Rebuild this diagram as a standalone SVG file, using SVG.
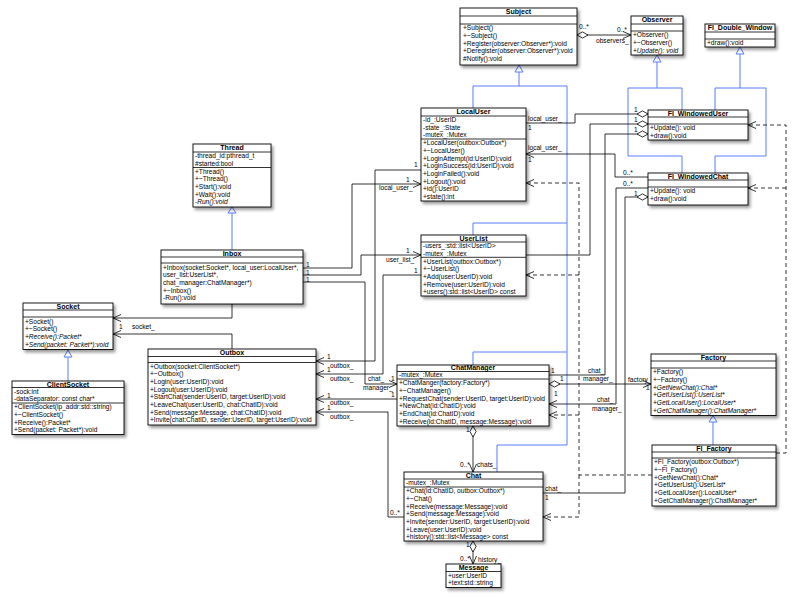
<svg xmlns="http://www.w3.org/2000/svg" width="792" height="600" viewBox="0 0 792 600">
<style>
.box{fill:#fff;stroke:#000;stroke-width:0.9}
.sep{stroke:#000;stroke-width:0.8}
text{font-family:"Liberation Sans",Arial,sans-serif;font-size:6.6px;fill:#000}
.h{font-weight:bold;font-size:7px;text-anchor:middle}
.i{font-style:italic}
.ln{fill:none;stroke:#000;stroke-width:0.8}
.da{stroke-dasharray:4,3}
.inh{fill:none;stroke:#5b7cff;stroke-width:1}
.tri{fill:#fff;stroke:#5b7cff;stroke-width:1}
</style>
<defs>
<filter id="sh" x="-10%" y="-10%" width="130%" height="140%"><feDropShadow dx="2" dy="2.5" stdDeviation="1.5" flood-color="#000" flood-opacity="0.4"/></filter>
<marker id="a" markerWidth="10" markerHeight="9" refX="9" refY="4" orient="auto" markerUnits="userSpaceOnUse"><path d="M1,0.5 L9,4 L1,7.5" fill="none" stroke="#000" stroke-width="0.8"/></marker>
<marker id="d" markerWidth="13" markerHeight="8" refX="0.5" refY="4" orient="auto" markerUnits="userSpaceOnUse"><path d="M0.5,4 L6,0.9 L11.5,4 L6,7.1 Z" fill="#fff" stroke="#000" stroke-width="0.8"/></marker>
</defs>

<g id="connectors">
<path class="inh" d="M519,72 V86 M473,86 H567 M473,86 V108 M567,86 V445 M567,223 H473 V235 M567,352 H473 V365 M567,445 H497 V472"/>
<path class="inh" d="M657,62 V88 M628,88 H682 M682,88 V110 M628,88 V156 H682 V173"/>
<path class="inh" d="M740,54 V88 M715,88 H766 M715,88 V110 M766,88 V156 H715 V173"/>
<path class="inh" d="M232,213 V250"/>
<path class="inh" d="M68,357 V381"/>
<path class="inh" d="M713,422 V445"/>
<polygon class="tri" points="519,65 515,72 523,72"/>
<polygon class="tri" points="657,55 653,62 661,62"/>
<polygon class="tri" points="740,47 736,54 744,54"/>
<polygon class="tri" points="232,207 228,213 236,213"/>
<polygon class="tri" points="68,350 64,357 72,357"/>
<polygon class="tri" points="713,415.5 709,422 717,422"/>

<path class="ln" d="M577,35 H631" marker-start="url(#d)" marker-end="url(#a)"/>
<path class="ln" d="M303,268 H352 V184 H421" marker-end="url(#a)"/>
<path class="ln" d="M303,275 H361 V255 H421" marker-end="url(#a)"/>
<path class="ln" d="M303,282 H365 V384 H397" marker-end="url(#a)"/>
<path class="ln" d="M421,170 H375 V361 H316" marker-end="url(#a)"/>
<path class="ln" d="M421,275 H383 V374 H316" marker-end="url(#a)"/>
<path class="ln" d="M397,399 H316" marker-end="url(#a)"/>
<path class="ln" d="M404,517 H388 V412 H316" marker-end="url(#a)"/>
<path class="ln" d="M232,304 V318 H113" marker-end="url(#a)"/>
<path class="ln" d="M232,349 V334 H113" marker-end="url(#a)"/>
<path class="ln" d="M648,114 H575 V123 H526" marker-start="url(#d)"/>
<path class="ln" d="M648,124 H590 V255 H526" marker-start="url(#d)"/>
<path class="ln" d="M648,134 H605 V375 H549" marker-start="url(#d)"/>
<path class="ln" d="M648,177 H615 V154 H526" marker-end="url(#a)"/>
<path class="ln" d="M648,188 H616 V404 H549" marker-end="url(#a)"/>
<path class="ln" d="M648,197 H625 V493 H543" marker-start="url(#d)"/>
<path class="ln" d="M549,384 H651" marker-start="url(#d)" marker-end="url(#a)"/>
<path class="ln" d="M473,426 V472" marker-start="url(#d)" marker-end="url(#a)"/>
<path class="ln" d="M473,541 V564" marker-start="url(#d)" marker-end="url(#a)"/>
<path class="ln da" d="M776,453 H786 V125 H748" marker-end="url(#a)"/>
<path class="ln da" d="M786,188 H748" marker-end="url(#a)"/>
<path class="ln da" d="M652,475 H579 V183 H526" marker-end="url(#a)"/>
<path class="ln da" d="M579,275 H526" marker-end="url(#a)"/>
<path class="ln da" d="M579,415 H549" marker-end="url(#a)"/>
<path class="ln da" d="M579,475 V517 H543" marker-end="url(#a)"/>

<text x="579" y="29">0..*</text>
<text x="617" y="32">0..*</text>
<text x="596" y="43">observers_</text>
<text x="306" y="267">1</text>
<text x="306" y="275">1</text>
<text x="306" y="282">1</text>
<text x="406" y="182">1</text>
<text x="379" y="190">local_user_</text>
<text x="406" y="253">1</text>
<text x="386" y="262">user_list_</text>
<text x="391" y="381">1</text>
<text x="368" y="381">chat_</text>
<text x="363" y="390">manager_</text>
<text x="414" y="167">1</text>
<text x="414" y="273">1</text>
<text x="327" y="359">1</text>
<text x="330" y="368">outbox_</text>
<text x="327" y="372">1</text>
<text x="330" y="381">outbox_</text>
<text x="391" y="397">1</text>
<text x="327" y="398">1</text>
<text x="330" y="405">outbox_</text>
<text x="327" y="410">1</text>
<text x="330" y="419">outbox_</text>
<text x="390" y="515">0..*</text>
<text x="119" y="329">1</text>
<text x="132" y="329">socket_</text>
<text x="528" y="121">local_user_</text>
<text x="528" y="130">1</text>
<text x="634" y="112">1</text>
<text x="634" y="122">1</text>
<text x="634" y="132">1</text>
<text x="528" y="150">local_user_</text>
<text x="528" y="162">1</text>
<text x="623" y="175">0..*</text>
<text x="623" y="186">0..*</text>
<text x="634" y="196">1</text>
<text x="551" y="373">1</text>
<text x="588" y="373">chat_</text>
<text x="583" y="381">manager_</text>
<text x="597" y="402">chat_</text>
<text x="592" y="411">manager_</text>
<text x="554" y="396">1</text>
<text x="560" y="381">1</text>
<text x="628" y="382">factory_</text>
<text x="646" y="390">1</text>
<text x="466" y="432">1</text>
<text x="460" y="467">0..*</text>
<text x="477" y="467">chats_</text>
<text x="545" y="491">chat_</text>
<text x="545" y="500">1</text>
<text x="466" y="547">1</text>
<text x="460" y="561">0..*</text>
<text x="478" y="562">history_</text>
</g>

<g id="Subject">
<rect class="box" filter="url(#sh)" x="460" y="8" width="117" height="57"/>
<line class="sep" x1="460" y1="16" x2="577" y2="16"/><line class="sep" x1="460" y1="24" x2="577" y2="24"/>
<text class="h" x="518.5" y="14.3">Subject</text>
<text x="463" y="30.3">+Subject()</text>
<text x="463" y="38">+~Subject()</text>
<text x="463" y="45.7">+Register(observer:Observer*):void</text>
<text x="463" y="53.4">+Deregister(observer:Observer*):void</text>
<text x="463" y="61.1">#Notify():void</text>
</g>

<g id="Observer">
<rect class="box" filter="url(#sh)" x="631" y="16" width="52" height="39"/>
<line class="sep" x1="631" y1="24" x2="683" y2="24"/><line class="sep" x1="631" y1="31" x2="683" y2="31"/>
<text class="h" x="657" y="22.3">Observer</text>
<text x="633" y="37.3">+Observer()</text>
<text x="633" y="45">+~Observer()</text>
<text class="i" x="633" y="52.7">+Update(): void</text>
</g>

<g id="Fl_Double_Window">
<rect class="box" filter="url(#sh)" x="705" y="24" width="70" height="23"/>
<line class="sep" x1="705" y1="32" x2="775" y2="32"/><line class="sep" x1="705" y1="39" x2="775" y2="39"/>
<text class="h" x="740" y="30.3">Fl_Double_Window</text>
<text x="707" y="45.3">+draw():void</text>
</g>

<g id="Fl_WindowedUser">
<rect class="box" filter="url(#sh)" x="648" y="110" width="100" height="30"/>
<line class="sep" x1="648" y1="117" x2="748" y2="117"/><line class="sep" x1="648" y1="124" x2="748" y2="124"/>
<text class="h" x="698" y="115.8">Fl_WindowedUser</text>
<text x="650" y="130.3">+Update(): void</text>
<text x="650" y="138">+draw():void</text>
</g>

<g id="Fl_WindowedChat">
<rect class="box" filter="url(#sh)" x="648" y="173" width="100" height="32"/>
<line class="sep" x1="648" y1="180" x2="748" y2="180"/><line class="sep" x1="648" y1="187" x2="748" y2="187"/>
<text class="h" x="698" y="178.8">Fl_WindowedChat</text>
<text x="650" y="193.3">+Update(): void</text>
<text x="650" y="201">+draw():void</text>
</g>

<g id="LocalUser">
<rect class="box" filter="url(#sh)" x="421" y="108" width="105" height="93"/>
<line class="sep" x1="421" y1="116" x2="526" y2="116"/><line class="sep" x1="421" y1="139" x2="526" y2="139"/>
<text class="h" x="473.5" y="114.3">LocalUser</text>
<text x="423" y="122">-id_:UserID</text>
<text x="423" y="129.6">-state_:State</text>
<text x="423" y="137.2">-mutex_:Mutex</text>
<text x="423" y="145.3">+LocalUser(outbox:Outbox*)</text>
<text x="423" y="153">+~LocalUser()</text>
<text x="423" y="160.6">+LoginAttempt(id:UserID):void</text>
<text x="423" y="168.3">+LoginSuccess(id:UserID):void</text>
<text x="423" y="175.9">+LoginFailed():void</text>
<text x="423" y="183.6">+Logout():void</text>
<text x="423" y="191.2">+id():UserID</text>
<text x="423" y="198.9">+state():int</text>
</g>

<g id="Thread">
<rect class="box" filter="url(#sh)" x="193" y="144" width="78" height="63"/>
<line class="sep" x1="193" y1="152" x2="271" y2="152"/><line class="sep" x1="193" y1="167.5" x2="271" y2="167.5"/>
<text class="h" x="232" y="150.3">Thread</text>
<text x="195" y="158.3">-thread_id:pthread_t</text>
<text x="195" y="165.6">#started:bool</text>
<text x="195" y="173.6">+Thread()</text>
<text x="195" y="181.2">+~Thread()</text>
<text x="195" y="188.9">+Start():void</text>
<text x="195" y="196.5">+Wait():void</text>
<text class="i" x="195" y="204.2">-Run():void</text>
</g>

<g id="Inbox">
<rect class="box" filter="url(#sh)" x="161" y="250" width="142" height="54"/>
<line class="sep" x1="161" y1="257" x2="303" y2="257"/><line class="sep" x1="161" y1="263" x2="303" y2="263"/>
<text class="h" x="232" y="255.8">Inbox</text>
<text x="163" y="269.6">+Inbox(socket:Socket*, local_user:LocalUser*,</text>
<text x="163" y="277.2">user_list:UserList*,</text>
<text x="163" y="284.9">chat_manager:ChatManager*)</text>
<text x="163" y="292.5">+~Inbox()</text>
<text x="163" y="300.2">-Run():void</text>
</g>

<g id="Socket">
<rect class="box" filter="url(#sh)" x="23" y="303" width="90" height="46.5"/>
<line class="sep" x1="23" y1="310" x2="113" y2="310"/><line class="sep" x1="23" y1="317" x2="113" y2="317"/>
<text class="h" x="68" y="308.8">Socket</text>
<text x="25" y="323.5">+Socket()</text>
<text x="25" y="331.2">+~Socket()</text>
<text class="i" x="25" y="338.8">+Receive():Packet*</text>
<text class="i" x="25" y="346.5">+Send(packet: Packet*):void</text>
</g>

<g id="ClientSocket">
<rect class="box" filter="url(#sh)" x="12" y="381" width="112" height="53.5"/>
<line class="sep" x1="12" y1="387.5" x2="124" y2="387.5"/><line class="sep" x1="12" y1="403" x2="124" y2="403"/>
<text class="h" x="68" y="386.5">ClientSocket</text>
<text x="14" y="393.8">-sock:int</text>
<text x="14" y="401.2">-dataSeparator: const char*</text>
<text x="14" y="409.3">+ClientSocket(ip_addr:std::string)</text>
<text x="14" y="417">+~ClientSocket()</text>
<text x="14" y="424.6">+Receive():Packet*</text>
<text x="14" y="432.3">+Send(packet: Packet*):void</text>
</g>

<g id="Outbox">
<rect class="box" filter="url(#sh)" x="148" y="349" width="168" height="76"/>
<line class="sep" x1="148" y1="356.5" x2="316" y2="356.5"/><line class="sep" x1="148" y1="362.5" x2="316" y2="362.5"/>
<text class="h" x="232" y="355">Outbox</text>
<text x="150" y="368.8">+Outbox(socket:ClientSocket*)</text>
<text x="150" y="376.4">+~Outbox()</text>
<text x="150" y="384.1">+Login(user:UserID):void</text>
<text x="150" y="391.7">+Logout(user:UserID):void</text>
<text x="150" y="399.4">+StartChat(sender:UserID, target:UserID):void</text>
<text x="150" y="407">+LeaveChat(user:UserID, chat:ChatID):void</text>
<text x="150" y="414.7">+Send(message:Message, chat:ChatID):void</text>
<text x="150" y="422.3">+Invite(chat:ChatID, sender:UserID, target:UserID):void</text>
</g>

<g id="UserList">
<rect class="box" filter="url(#sh)" x="421" y="235" width="105" height="61"/>
<line class="sep" x1="421" y1="242" x2="526" y2="242"/><line class="sep" x1="421" y1="257.3" x2="526" y2="257.3"/>
<text class="h" x="473.5" y="240.8">UserList</text>
<text x="423" y="248.2">-users_:std::list&lt;UserID&gt;</text>
<text x="423" y="255.8">-mutex_:Mutex</text>
<text x="423" y="263.6">+UserList(outbox:Outbox*)</text>
<text x="423" y="271.2">+~UserList()</text>
<text x="423" y="278.9">+Add(user:UserID):void</text>
<text x="423" y="286.5">+Remove(user:UserID):void</text>
<text x="423" y="294.2">+users():std::list&lt;UserID&gt; const</text>
</g>

<g id="ChatManager">
<rect class="box" filter="url(#sh)" x="397" y="365" width="152" height="61"/>
<line class="sep" x1="397" y1="371.5" x2="549" y2="371.5"/><line class="sep" x1="397" y1="379" x2="549" y2="379"/>
<text class="h" x="473" y="370.3">ChatManager</text>
<text x="399" y="377.3">-mutex_:Mutex</text>
<text x="399" y="385.3">+ChatManger(factory:Factory*)</text>
<text x="399" y="393">+~ChatManager()</text>
<text x="399" y="400.6">+RequestChat(sender:UserID, target:UserID):void</text>
<text x="399" y="408.3">+NewChat(id:ChatID):void</text>
<text x="399" y="415.9">+EndChat(id:ChatID):void</text>
<text x="399" y="423.6">+Receive(id:ChatID, message:Message):void</text>
</g>

<g id="Chat">
<rect class="box" filter="url(#sh)" x="404" y="472" width="139" height="69"/>
<line class="sep" x1="404" y1="479" x2="543" y2="479"/><line class="sep" x1="404" y1="487" x2="543" y2="487"/>
<text class="h" x="473.5" y="477.8">Chat</text>
<text x="406" y="485.3">-mutex_:Mutex</text>
<text x="406" y="493.3">+Chat(id:ChatID, outbox:Outbox*)</text>
<text x="406" y="501">+~Chat()</text>
<text x="406" y="508.6">+Receive(message:Message):void</text>
<text x="406" y="516.3">+Send(message:Message):void</text>
<text x="406" y="523.9">+Invite(sender:UserID, target:UserID):void</text>
<text x="406" y="531.6">+Leave(user:UserID):void</text>
<text x="406" y="539.2">+history():std::list&lt;Message&gt; const</text>
</g>

<g id="Message">
<rect class="box" filter="url(#sh)" x="446" y="564" width="55" height="23.5"/>
<line class="sep" x1="446" y1="571.5" x2="501" y2="571.5"/>
<text class="h" x="473.5" y="570.3">Message</text>
<text x="448" y="577.6">+user:UserID</text>
<text x="448" y="585.2">+text:std::string</text>
</g>

<g id="Factory">
<rect class="box" filter="url(#sh)" x="651" y="354" width="125" height="61.5"/>
<line class="sep" x1="651" y1="361" x2="776" y2="361"/><line class="sep" x1="651" y1="368" x2="776" y2="368"/>
<text class="h" x="713.5" y="359.8">Factory</text>
<text x="653" y="374.3">+Factory()</text>
<text x="653" y="382">+~Factory()</text>
<text class="i" x="653" y="389.6">+GetNewChat():Chat*</text>
<text class="i" x="653" y="397.3">+GetUserList():UserList*</text>
<text class="i" x="653" y="404.9">+GetLocalUser():LocalUser*</text>
<text class="i" x="653" y="412.6">+GetChatManager():ChatManager*</text>
</g>

<g id="Fl_Factory">
<rect class="box" filter="url(#sh)" x="652" y="445" width="124" height="61"/>
<line class="sep" x1="652" y1="452" x2="776" y2="452"/><line class="sep" x1="652" y1="458" x2="776" y2="458"/>
<text class="h" x="714" y="450.8">Fl_Factory</text>
<text x="654" y="464.3">+Fl_Factory(outbox:Outbox*)</text>
<text x="654" y="472">+~Fl_Factory()</text>
<text x="654" y="479.6">+GetNewChat():Chat*</text>
<text x="654" y="487.3">+GetUserList():UserList*</text>
<text x="654" y="494.9">+GetLocalUser():LocalUser*</text>
<text x="654" y="502.6">+GetChatManager():ChatManager*</text>
</g>
</svg>
